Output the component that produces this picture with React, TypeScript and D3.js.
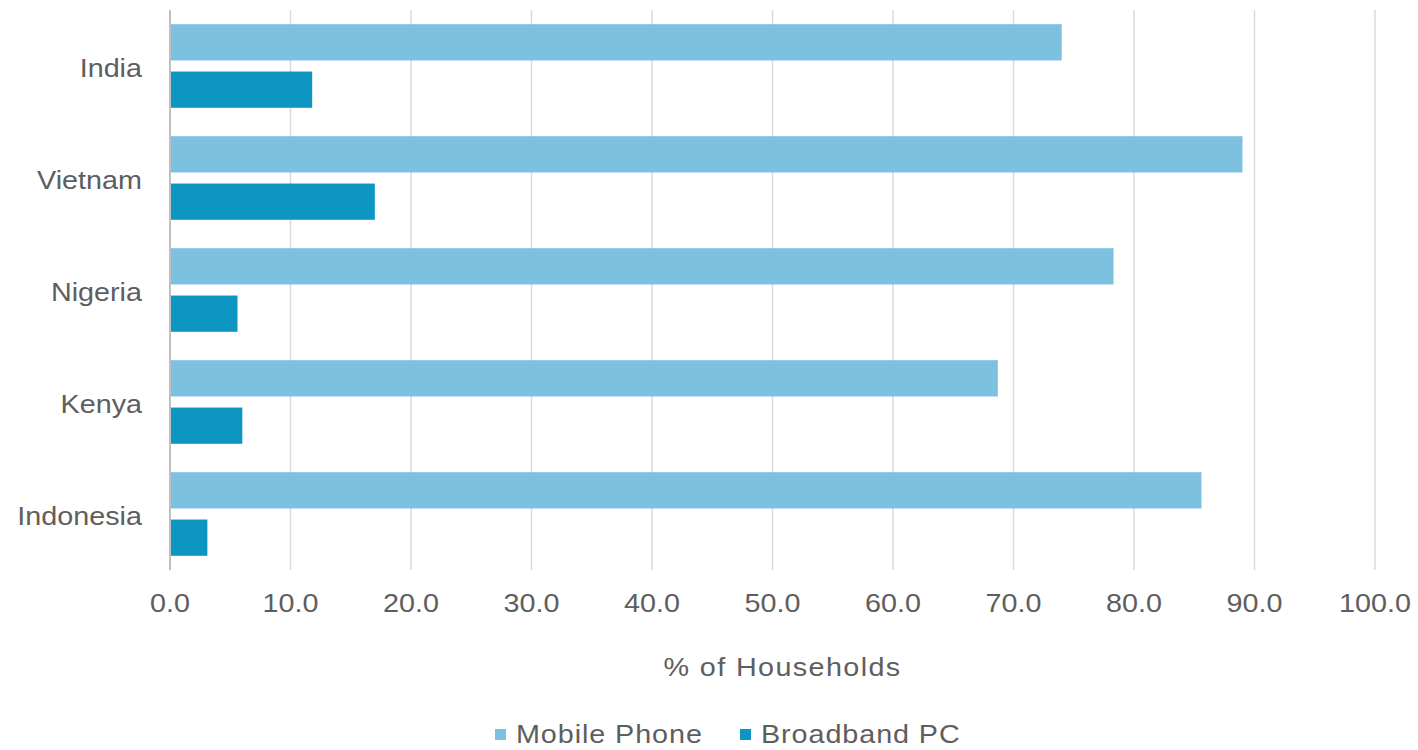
import React, { useEffect, useRef } from "react";
import * as d3 from "d3";

// Household access by country (% of households)
const countries = ["India", "Vietnam", "Nigeria", "Kenya", "Indonesia"];
const mobilePhone = [74.0, 89.0, 78.3, 68.7, 85.6];
const broadbandPC = [11.8, 17.0, 5.6, 6.0, 3.1];
const seriesNames = ["Mobile Phone", "Broadband PC"];
const seriesColors = ["#7dc0df", "#0e96c2"];
const xTicks = [0, 10, 20, 30, 40, 50, 60, 70, 80, 90, 100];
const xTitle = "% of Households";

const W = 1418;
const H = 750;
const FONT = "'Liberation Sans', Arial, sans-serif";
const TEXT = "#5e5e5e";
const STRETCH = 1.15;

export default function App() {
  const ref = useRef<SVGSVGElement | null>(null);

  useEffect(() => {
    const svg = d3.select(ref.current);
    svg.selectAll("*").remove();

    const left = 170, right = 1375, top = 10, bottom = 570;
    const x = d3.scaleLinear().domain([0, 100]).range([left, right]);
    const y = d3.scaleBand<string>().domain(countries).range([top, bottom]).padding(0);
    const inner = d3
      .scaleBand<string>()
      .domain(seriesNames)
      .range([0, y.bandwidth()])
      .paddingInner(0.234)
      .paddingOuter(0.3);

    const label = (
      g: d3.Selection<any, any, any, any>,
      tx: number,
      ty: number,
      text: string,
      anchor: string,
      spacing = 0
    ) =>
      g
        .append("text")
        .attr("transform", `translate(${tx},${ty}) scale(${STRETCH},1)`)
        .attr("text-anchor", anchor)
        .attr("dominant-baseline", "central")
        .attr("font-family", FONT)
        .attr("font-size", 25)
        .attr("letter-spacing", spacing)
        .attr("fill", TEXT)
        .text(text);

    // vertical gridlines
    svg
      .append("g")
      .selectAll("line")
      .data(xTicks.slice(1))
      .join("line")
      .attr("x1", (d) => x(d))
      .attr("x2", (d) => x(d))
      .attr("y1", top)
      .attr("y2", bottom)
      .attr("stroke", "#d9d9d9")
      .attr("stroke-width", 1.5);

    // bars
    const values = [mobilePhone, broadbandPC];
    seriesNames.forEach((name, si) => {
      svg
        .append("g")
        .selectAll("rect")
        .data(countries)
        .join("rect")
        .attr("x", x(0))
        .attr("y", (c) => (y(c) as number) + (inner(name) as number))
        .attr("width", (_c, i) => x(values[si][i]) - x(0))
        .attr("height", inner.bandwidth())
        .attr("fill", seriesColors[si]);
    });

    // category axis line
    svg
      .append("line")
      .attr("x1", x(0))
      .attr("x2", x(0))
      .attr("y1", top)
      .attr("y2", bottom)
      .attr("stroke", "#bfbfbf")
      .attr("stroke-width", 2);

    // category labels
    const cat = svg.append("g");
    countries.forEach((c) => {
      label(cat, 142, (y(c) as number) + y.bandwidth() / 2 + 3, c, "end");
    });

    // value tick labels
    const ticks = svg.append("g");
    xTicks.forEach((t) => {
      label(ticks, x(t), 604, d3.format(".1f")(t), "middle");
    });

    // axis title
    label(svg, (left + right) / 2 + 10, 668, xTitle, "middle", 1.2);

    // legend
    const legend = svg.append("g");
    const legendItems = [
      { x: 495, name: seriesNames[0], color: seriesColors[0] },
      { x: 740, name: seriesNames[1], color: seriesColors[1] },
    ];
    legendItems.forEach((it) => {
      legend
        .append("rect")
        .attr("x", it.x)
        .attr("y", 729)
        .attr("width", 11)
        .attr("height", 11)
        .attr("fill", it.color);
      label(legend, it.x + 21, 735, it.name, "start", 0.8);
    });
  }, []);

  return (
    <div style={{ position: "absolute", left: 0, top: 0, width: W, height: H, background: "#fff" }}>
      <svg ref={ref} width={W} height={H} style={{ display: "block" }} />
    </div>
  );
}
